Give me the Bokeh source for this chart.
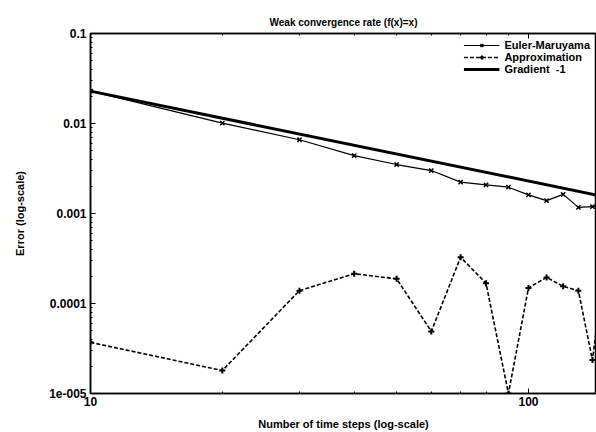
from bokeh.plotting import figure
from bokeh.models import Range1d, FixedTicker, CustomJSTickFormatter, LogAxis, Legend, LegendItem
from bokeh.embed import file_html
from bokeh.resources import INLINE

# ---- data ----
steps = [10, 20, 30, 40, 50, 60, 70, 80, 90, 100, 110, 120, 130, 140, 150]
euler_err = [0.0229, 0.0101, 0.0066, 0.0044, 0.0035, 0.0030, 0.00223, 0.00208,
             0.00196, 0.00161, 0.00139, 0.00163, 0.00117, 0.00119, 0.00120]
approx_err = [3.7e-5, 1.8e-5, 1.39e-4, 2.14e-4, 1.88e-4, 4.9e-5, 3.27e-4, 1.68e-4,
              1.0e-5, 1.49e-4, 1.95e-4, 1.55e-4, 1.39e-4, 2.35e-5, 3.5e-4]
gradient_x = [10, 150]
gradient_y = [0.0229, 0.00153]

x_major = [10, 100]
x_labels = ["10", "100"]
y_major = [1e-5, 1e-4, 1e-3, 1e-2, 1e-1]
y_labels = ["1e-005", "0.0001", "0.001", "0.01", "0.1"]

title_text = "Weak convergence rate (f(x)=x)"
x_title = "Number of time steps (log-scale)"
y_title = "Error (log-scale)"

FONT = "Liberation Sans"

x_minor = [k * 10 ** e for e in range(0, 3) for k in range(2, 10)]
y_minor = [k * 10.0 ** e for e in range(-6, 0) for k in range(2, 10)]

p = figure(width=596, height=432, x_axis_type="log", y_axis_type="log",
           x_range=Range1d(10, 143), y_range=Range1d(1e-5, 0.1),
           output_backend="svg", toolbar_location=None,
           min_border_left=90, min_border_right=0, min_border_top=33, min_border_bottom=39)

p.title.text = title_text
p.title.align = "center"
p.title.text_font = FONT
p.title.text_font_size = "10px"
p.title.text_font_style = "bold"
p.title.text_color = "black"
p.title.standoff = 12

p.xgrid.visible = False
p.ygrid.visible = False
p.outline_line_color = "black"
p.outline_line_width = 1.5

xfmt = CustomJSTickFormatter(args=dict(labels=x_labels), code="""
    const i = Math.round(Math.log10(tick)) - 1;
    return labels[i];
""")
yfmt = CustomJSTickFormatter(args=dict(labels=y_labels), code="""
    const i = Math.round(Math.log10(tick)) + 5;
    return labels[i];
""")

for ax in p.xaxis:
    ax.ticker = FixedTicker(ticks=x_major, minor_ticks=x_minor)
    ax.formatter = xfmt
    ax.axis_label = x_title
for ax in p.yaxis:
    ax.ticker = FixedTicker(ticks=y_major, minor_ticks=y_minor)
    ax.formatter = yfmt
    ax.axis_label = y_title

for ax in p.xaxis + p.yaxis:
    ax.major_tick_in = 5
    ax.major_tick_out = 0
    ax.minor_tick_in = 2
    ax.minor_tick_out = 0
    ax.axis_line_width = 1.5
    ax.axis_line_color = "black"
    ax.major_tick_line_color = "black"
    ax.minor_tick_line_color = "black"
    ax.major_label_text_font = FONT
    ax.major_label_text_font_size = "12px"
    ax.major_label_text_font_style = "bold"
    ax.major_label_text_color = "black"
    ax.axis_label_text_font = FONT
    ax.axis_label_text_font_size = "11px"
    ax.axis_label_text_font_style = "bold"
    ax.axis_label_text_color = "black"

p.xaxis.major_label_standoff = 3
p.xaxis.axis_label_standoff = 9
p.yaxis.major_label_standoff = 4
p.yaxis.axis_label_standoff = 20

top = LogAxis(ticker=FixedTicker(ticks=x_major, minor_ticks=x_minor),
              formatter=CustomJSTickFormatter(code="return ''"),
              major_tick_in=5, major_tick_out=0, minor_tick_in=2, minor_tick_out=0,
              major_label_standoff=0, major_label_text_font_size="1px",
              axis_line_width=1.5, axis_line_color="black",
              major_tick_line_color="black", minor_tick_line_color="black")
p.add_layout(top, "above")

r_em_line = p.line(steps, euler_err, line_color="black", line_width=1.2)
r_em_pts = p.scatter(steps, euler_err, marker="x", size=6, line_color="black", line_width=1.5)
r_ap_line = p.line(steps, approx_err, line_color="black", line_width=1.6, line_dash="4 2")
r_ap_pts = p.scatter(steps, approx_err, marker="cross", size=6, line_color="black", line_width=2)
r_gr = p.line(gradient_x, gradient_y, line_color="black", line_width=3)

legend = Legend(items=[
    LegendItem(label="Euler-Maruyama", renderers=[r_em_line, r_em_pts]),
    LegendItem(label="Approximation", renderers=[r_ap_line, r_ap_pts]),
    LegendItem(label="Gradient  -1", renderers=[r_gr]),
], location="top_right")
legend.background_fill_alpha = 0
legend.border_line_alpha = 0
legend.label_text_font = FONT
legend.label_text_font_size = "11px"
legend.label_text_font_style = "bold"
legend.label_text_color = "black"
legend.label_height = 10
legend.glyph_height = 10
legend.glyph_width = 36
legend.spacing = 0
legend.padding = 4
legend.margin = 2
p.add_layout(legend)

open("out.html", "w").write(file_html(p, INLINE))
